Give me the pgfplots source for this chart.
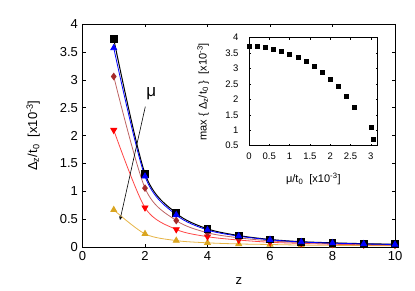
\documentclass[border=0pt]{standalone}
\usepackage{fontspec}
\setmainfont{Liberation Sans}
\usepackage{pgfplots}
\pgfplotsset{compat=1.18}
\definecolor{cbrown}{RGB}{165,42,42}
\definecolor{cbrownl}{RGB}{190,100,100}
\definecolor{cred}{RGB}{255,0,0}
\definecolor{credl}{RGB}{255,70,70}
\definecolor{cgold}{RGB}{218,165,32}
\definecolor{cgoldl}{RGB}{230,180,70}
\begin{document}
\begin{tikzpicture}
\useasboundingbox (0pt,0pt) rectangle (415pt,291pt);
\begin{axis}[at={(82.5pt,43.7pt)}, anchor=south west, scale only axis,
  width=312.5pt, height=223.3pt,
  xmin=0, xmax=10, ymin=0, ymax=4,
  xtick={0,2,4,6,8,10}, ytick={0,0.5,1,1.5,2,2.5,3,3.5,4},
  tick align=inside, major tick length=3.5pt,
  tick style={black, line width=0.5pt},
  axis line style={line width=0.7pt},
  font=\fontsize{13}{15}\selectfont,
  /pgf/number format/assume math mode=true,
  xticklabel style={yshift=-1pt},
  yticklabel style={xshift=-1pt},
  xlabel={z},
  ylabel={Δ\textsubscript{z}/t\textsubscript{0}\ \ [x10\textsuperscript{-3}]},
  xlabel style={at={(axis description cs:0.5,-0.152)}, anchor=center},
  ylabel style={at={(axis description cs:-0.158,0.5)}, anchor=center},
]
\addplot[cgoldl, line width=0.8pt, smooth, mark=triangle*, mark size=3.4pt, mark options={cgold, solid}]
  coordinates {(1,0.67) (2,0.24) (3,0.12) (4,0.08) (5,0.06) (6,0.05) (7,0.04) (8,0.035) (9,0.03) (10,0.03)};
\addplot[credl, line width=0.8pt, smooth, mark=triangle*, mark size=3.4pt, mark options={cred, solid, rotate=180}]
  coordinates {(1,2.10) (2,0.71) (3,0.32) (4,0.19) (5,0.13) (6,0.09) (7,0.07) (8,0.055) (9,0.045) (10,0.04)};
\addplot[cbrownl, line width=0.8pt, smooth, mark=diamond*, mark size=3.2pt, mark options={cbrown, solid}]
  coordinates {(1,3.06) (2,1.06) (3,0.48) (4,0.26) (5,0.17) (6,0.115) (7,0.085) (8,0.065) (9,0.055) (10,0.045)};
\addplot[black, line width=1pt, smooth, mark=square*, mark size=3.4pt, mark options={black, solid}]
  coordinates {(1,3.73) (2,1.32) (3,0.61) (4,0.33) (5,0.21) (6,0.14) (7,0.10) (8,0.08) (9,0.065) (10,0.055)};
\addplot[blue, line width=0.8pt, smooth, mark=triangle*, mark size=3.4pt, mark options={blue, solid}]
  coordinates {(1,3.57) (2,1.27) (3,0.58) (4,0.31) (5,0.20) (6,0.135) (7,0.095) (8,0.075) (9,0.06) (10,0.05)};
\draw[-stealth, black, line width=0.6pt] (axis cs:2.01,2.52) -- (axis cs:1.2,0.49);
\node[font=\fontsize{17}{19}\selectfont] at (axis cs:2.2,2.76) {μ};
\end{axis}
\begin{axis}[at={(249pt,145.3pt)}, anchor=south west, scale only axis,
  width=128.7pt, height=108pt,
  xmin=0, xmax=3.17, ymin=0.5, ymax=4,
  xtick={0,0.5,1,1.5,2,2.5,3}, ytick={0.5,1,1.5,2,2.5,3,3.5,4},
  tick align=inside, major tick length=2pt,
  tick style={black, line width=0.4pt},
  axis line style={line width=0.6pt},
  axis background/.style={fill=white},
  font=\fontsize{9.5}{11}\selectfont,
  /pgf/number format/assume math mode=true,
  xticklabel style={yshift=-3.5pt},
  yticklabel style={xshift=-7pt},
  xlabel={μ/t\textsubscript{0}\ \ [x10\textsuperscript{-3}]},
  ylabel={max \{ Δ\textsubscript{z}/t\textsubscript{0} \}\ \ [x10\textsuperscript{-3}]},
  xlabel style={at={(axis description cs:0.5,-0.31)}, anchor=center, font=\fontsize{11}{13}\selectfont},
  ylabel style={at={(axis description cs:-0.357,0.5)}, anchor=center, font=\fontsize{11}{13}\selectfont},
]
\addplot[only marks, mark=square*, mark size=2pt, black]
  coordinates {(0,3.74) (0.2,3.72) (0.4,3.69) (0.6,3.63) (0.8,3.57) (1.0,3.47) (1.2,3.36) (1.4,3.24) (1.6,3.07) (1.8,2.88) (2.0,2.67) (2.2,2.43) (2.4,2.12) (2.6,1.75) (3.0,1.10) (3.05,0.70)};
\end{axis}
\end{tikzpicture}
\end{document}
